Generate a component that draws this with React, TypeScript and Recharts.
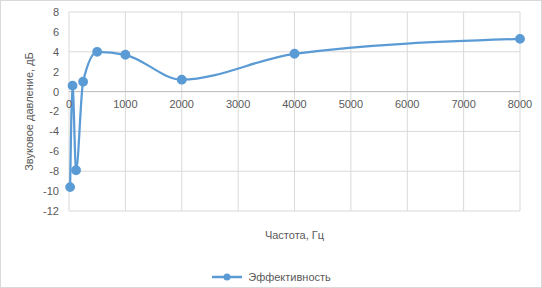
import { LineChart, Line, XAxis, YAxis, CartesianGrid, Legend, ReferenceLine } from 'recharts'

const frequencies = [20, 63, 125, 250, 500, 1000, 2000, 4000, 8000]
const efficiency = [-9.6, 0.6, -7.9, 1.0, 4.0, 3.7, 1.2, 3.8, 5.3]
const xTicks = [0, 1000, 2000, 3000, 4000, 5000, 6000, 7000, 8000]
const yTicks = [-12, -10, -8, -6, -4, -2, 0, 2, 4, 6, 8]

const data = frequencies.map((f, i) => ({ f, v: efficiency[i] }))

const BLUE = '#5B9BD5'
const TEXT = '#595959'
const FONT = '"Liberation Sans", Arial, sans-serif'

// plot area geometry, used to drop the x labels onto the zero line like Excel does
const PLOT_TOP = 12
const PLOT_H = 200
const Y_MIN = -12
const Y_MAX = 8
const zeroFromBottom = PLOT_H * (0 - Y_MIN) / (Y_MAX - Y_MIN)

function XTick(props: any) {
  const { x, y, payload } = props
  return (
    <text x={x} y={y - zeroFromBottom + 9} textAnchor="middle" fill={TEXT} fontSize={11} fontFamily={FONT}>
      {payload.value}
    </text>
  )
}

function LegendContent() {
  return (
    <div style={{ display: 'flex', justifyContent: 'center', alignItems: 'center', paddingTop: 8, paddingLeft: 22, fontFamily: FONT, fontSize: 11, color: TEXT }}>
      <svg width={30} height={10} style={{ marginRight: 6 }}>
        <line x1={0} y1={5} x2={30} y2={5} stroke={BLUE} strokeWidth={2.5} />
        <circle cx={15} cy={5} r={3.5} fill={BLUE} />
      </svg>
      <span>Эффективность</span>
    </div>
  )
}

export default function App() {
  return (
    <div style={{ position: 'absolute', left: 0, top: 0, width: 542, height: 288, background: '#fff', boxSizing: 'border-box', border: '1px solid #D9D9D9' }}>
      <LineChart width={540} height={286} data={data} margin={{ top: PLOT_TOP - 1, right: 21, left: 0, bottom: 0 }}>
        <CartesianGrid stroke="#D9D9D9" strokeWidth={1} />
        <XAxis
          type="number"
          dataKey="f"
          domain={[0, 8000]}
          ticks={xTicks}
          axisLine={false}
          tickLine={false}
          tick={<XTick />}
          height={52}
          label={{ value: 'Частота, Гц', position: 'insideBottom', offset: 24, fill: TEXT, fontSize: 11, fontFamily: FONT }}
        />
        <YAxis
          type="number"
          domain={[Y_MIN, Y_MAX]}
          ticks={yTicks}
          width={68}
          axisLine={false}
          tickLine={false}
          tick={{ fill: TEXT, fontSize: 11, fontFamily: FONT }}
          tickMargin={4}
          label={{ value: 'Звуковое давление, дБ', angle: -90, position: 'center', dx: -6, fill: TEXT, fontSize: 11, fontFamily: FONT }}
        />
        <ReferenceLine y={0} stroke="#BFBFBF" />
        <Legend verticalAlign="bottom" height={24} content={<LegendContent />} />
        <Line
          type="monotoneX"
          dataKey="v"
          stroke={BLUE}
          strokeWidth={2.25}
          dot={{ r: 3.8, fill: BLUE, stroke: BLUE }}
          isAnimationActive={false}
        />
      </LineChart>
    </div>
  )
}
